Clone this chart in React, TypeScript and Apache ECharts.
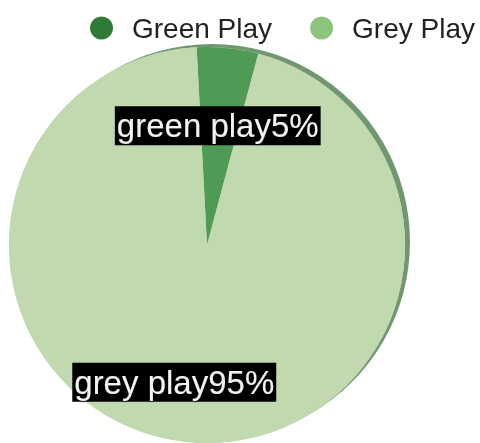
import React, { useEffect, useRef } from "react";
import * as echarts from "echarts";

const categories = ["Green Play", "Grey Play"];
const labelNames = ["green play", "grey play"];
const values = [5, 95];
const sliceColors = ["#4f9b55", "#c1d9ae"];
const legendColors = ["#2f7a34", "#8cc47c"];
const labelOffsets = [
  [-2, 2],
  [-20, 16],
];

export default function App() {
  const ref = useRef<HTMLDivElement>(null);
  useEffect(() => {
    if (!ref.current) return;
    const chart = echarts.init(ref.current, null, { renderer: "svg" });
    const center = [207, 245];
    const r = 198;
    const startAngle = 93;
    const data = categories.map((name, i) => ({
      name,
      value: values[i],
      itemStyle: { color: sliceColors[i] },
    }));
    chart.setOption({
      animation: false,
      legend: {
        top: 9,
        right: 0,
        icon: "circle",
        itemWidth: 23,
        itemHeight: 23,
        itemGap: 38,
        selectedMode: false,
        textStyle: {
          fontSize: 28,
          color: "#222",
          fontFamily: "Liberation Sans, Arial, sans-serif",
          padding: [0, 0, 0, 14],
        },
        data: categories.map((name, i) => ({
          name,
          itemStyle: { color: legendColors[i] },
        })),
      },
      series: [
        {
          type: "pie",
          center,
          radius: r,
          silent: true,
          label: { show: false },
          labelLine: { show: false },
          itemStyle: {
            color: sliceColors[1],
            shadowColor: "rgba(40,95,40,0.65)",
            shadowBlur: 1,
            shadowOffsetX: 5,
            shadowOffsetY: -3,
          },
          data: [{ name: "base", value: 1 }],
        },
        {
          type: "pie",
          center,
          radius: r,
          startAngle,
          silent: true,
          label: { show: false },
          labelLine: { show: false },
          data,
        },
        {
          type: "pie",
          center,
          radius: [40, r],
          startAngle,
          silent: true,
          itemStyle: { color: "rgba(0,0,0,0)" },
          labelLine: { show: false },
          label: {
            show: true,
            position: "inside",
            formatter: (p: any) => labelNames[p.dataIndex] + p.percent + "%",
            color: "#f2f2f2",
            fontSize: 33,
            fontFamily: "Liberation Sans, Arial, sans-serif",
            backgroundColor: "#000",
            padding: [3, 2, 3, 2],
            textShadowColor: "rgba(0,0,0,0.7)",
            textShadowBlur: 3,
          },
          data: categories.map((name, i) => ({
            name,
            value: values[i],
            label: { offset: labelOffsets[i] },
          })),
        },
      ],
    });
    return () => chart.dispose();
  }, []);
  return (
    <div
      ref={ref}
      style={{ position: "fixed", left: 0, top: 0, width: 480, height: 443 }}
    />
  );
}
